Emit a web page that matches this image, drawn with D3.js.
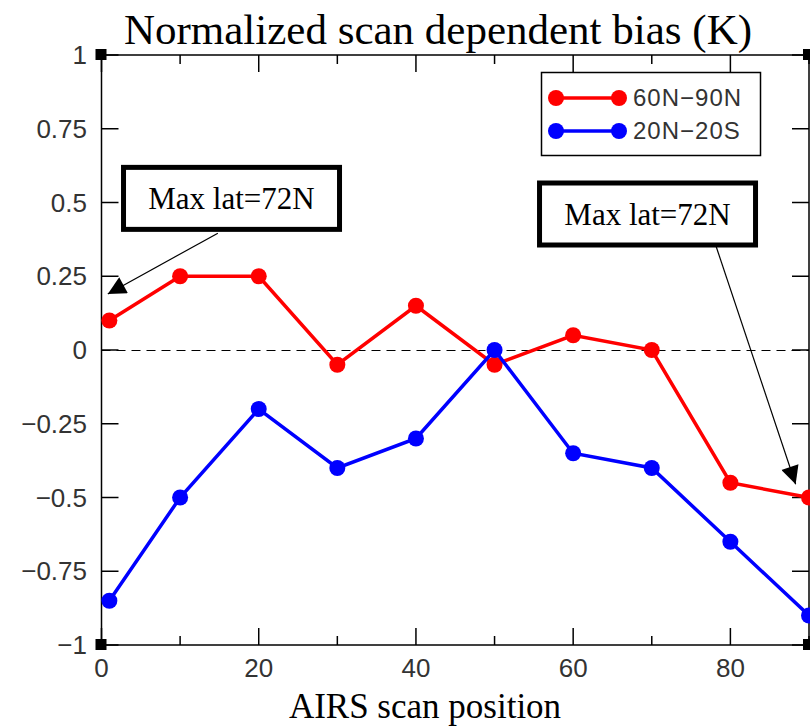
<!DOCTYPE html>
<html>
<head>
<meta charset="utf-8">
<script src="https://cdn.jsdelivr.net/npm/d3@7"></script>
<style>
  body { margin: 0; background: #fff; }
  svg { display: block; }
  .tick-label { font-family: "Liberation Sans", Arial, sans-serif; font-size: 26px; fill: #333; }
  .serif { font-family: "Liberation Serif", "Times New Roman", serif; fill: #000; }
</style>
</head>
<body>
<div id="chart"></div>
<script>
'use strict';

// scan positions and biases
const scanPos = [1, 10, 20, 30, 40, 50, 60, 70, 80, 90];
const northBias = [0.1, 0.25, 0.25, -0.05, 0.15, -0.05, 0.05, 0, -0.45, -0.5];
const tropicBias = [-0.85, -0.5, -0.2, -0.4, -0.3, 0, -0.35, -0.4, -0.65, -0.9];

const seriesNames = ["60N\u221290N", "20N\u221220S"];
const seriesColors = ["#ff0000", "#0000ff"];

const xTicks = [0, 20, 40, 60, 80];
const xMinor = [10, 30, 50, 70, 90];
const yTicks = [1, 0.75, 0.5, 0.25, 0, -0.25, -0.5, -0.75, -1];
const yTickLabels = ["1", "0.75", "0.5", "0.25", "0", "\u22120.25", "\u22120.5", "\u22120.75", "\u22121"];

// annotation boxes (data coords of box centre) and arrow tips
const notes = [
    { text: "Max lat=72N", cx: 16.54, cy: 0.514, tailX: 14.8, tailY: 0.396, tipX: 0.8, tipY: 0.19 },
    { text: "Max lat=72N", cx: 69.46, cy: 0.461, tailX: 78.2, tailY: 0.35, tipX: 88.3, tipY: -0.455 }
];

const width = 810, height = 728;
const plotLeft = 101.5, plotRight = 809, plotTop = 55, plotBottom = 645;

const X = d3.scaleLinear().domain([0, 90]).range([plotLeft, plotRight]);
const Y = d3.scaleLinear().domain([-1, 1]).range([plotBottom, plotTop]);

const svg = d3.select("#chart").append("svg")
    .attr("width", width)
    .attr("height", height);

svg.append("defs").append("marker")
    .attr("id", "head")
    .attr("viewBox", "0 0 10 10")
    .attr("refX", 10).attr("refY", 5)
    .attr("markerWidth", 22).attr("markerHeight", 18)
    .attr("markerUnits", "userSpaceOnUse")
    .attr("orient", "auto")
    .append("path")
    .attr("d", "M0,0 L10,5 L0,10 Z")
    .attr("fill", "#000");

// title + x label
svg.append("text").attr("class", "serif")
    .attr("x", 438).attr("y", 44)
    .attr("text-anchor", "middle")
    .style("font-size", "43px")
    .text("Normalized scan dependent bias (K)");

svg.append("text").attr("class", "serif")
    .attr("x", 425).attr("y", 718)
    .attr("text-anchor", "middle")
    .style("font-size", "35px")
    .text("AIRS scan position");

// frame
svg.append("rect")
    .attr("x", plotLeft).attr("y", plotTop)
    .attr("width", plotRight - plotLeft).attr("height", plotBottom - plotTop)
    .attr("fill", "none").attr("stroke", "#000").attr("stroke-width", 1.5);

// ticks on all four sides
const tickG = svg.append("g").attr("stroke", "#000").attr("stroke-width", 1.5);
xTicks.forEach(v => {
    tickG.append("line").attr("x1", X(v)).attr("x2", X(v)).attr("y1", plotBottom).attr("y2", plotBottom - 17);
    tickG.append("line").attr("x1", X(v)).attr("x2", X(v)).attr("y1", plotTop).attr("y2", plotTop + 17);
});
xMinor.forEach(v => {
    tickG.append("line").attr("x1", X(v)).attr("x2", X(v)).attr("y1", plotBottom).attr("y2", plotBottom - 9);
    tickG.append("line").attr("x1", X(v)).attr("x2", X(v)).attr("y1", plotTop).attr("y2", plotTop + 9);
});
yTicks.forEach(v => {
    tickG.append("line").attr("x1", plotLeft).attr("x2", plotLeft + 17).attr("y1", Y(v)).attr("y2", Y(v));
    tickG.append("line").attr("x1", plotRight).attr("x2", plotRight - 17).attr("y1", Y(v)).attr("y2", Y(v));
});

// corner squares
[[plotLeft, plotTop], [plotRight, plotTop], [plotLeft, plotBottom], [plotRight, plotBottom]].forEach(c => {
    svg.append("rect")
        .attr("x", c[0] - 6).attr("y", c[1] - 6)
        .attr("width", 11).attr("height", 11)
        .attr("fill", "#000");
});

// tick labels
svg.selectAll(".ylab").data(yTicks).enter().append("text")
    .attr("class", "tick-label")
    .attr("x", 87)
    .attr("y", d => Y(d) + 9)
    .attr("text-anchor", "end")
    .text((d, i) => yTickLabels[i]);

svg.selectAll(".xlab").data(xTicks).enter().append("text")
    .attr("class", "tick-label")
    .attr("x", d => X(d))
    .attr("y", 677)
    .attr("text-anchor", "middle")
    .text(d => d);

// zero line
svg.append("line")
    .attr("x1", plotLeft).attr("x2", plotRight)
    .attr("y1", Y(0) + 0.5).attr("y2", Y(0) + 0.5)
    .attr("stroke", "#000").attr("stroke-width", 1.2)
    .attr("stroke-dasharray", "9,6");

// series
const plot = svg.append("g");
const line = d3.line().x(d => X(d[0])).y(d => Y(d[1]));
[northBias, tropicBias].forEach((vals, s) => {
    const pts = scanPos.map((p, i) => [p, vals[i]]);
    plot.append("path")
        .datum(pts)
        .attr("d", line)
        .attr("fill", "none")
        .attr("stroke", seriesColors[s])
        .attr("stroke-width", 3.5);
    plot.selectAll(".pt" + s).data(pts).enter().append("circle")
        .attr("cx", d => X(d[0]))
        .attr("cy", d => Y(d[1]))
        .attr("r", 8)
        .attr("fill", seriesColors[s]);
});

// legend
const legend = svg.append("g");
legend.append("rect")
    .attr("x", 541.5).attr("y", 72.5)
    .attr("width", 219).attr("height", 83)
    .attr("fill", "#fff").attr("stroke", "#000").attr("stroke-width", 1.5);
seriesNames.forEach((name, i) => {
    const ly = 98 + i * 33;
    legend.append("line")
        .attr("x1", 556).attr("x2", 619).attr("y1", ly).attr("y2", ly)
        .attr("stroke", seriesColors[i]).attr("stroke-width", 3.5);
    [556, 619].forEach(cx => {
        legend.append("circle").attr("cx", cx).attr("cy", ly).attr("r", 8).attr("fill", seriesColors[i]);
    });
    legend.append("text")
        .attr("class", "tick-label")
        .attr("x", 633).attr("y", ly + 8)
        .style("font-size", "24px")
        .style("letter-spacing", "1px")
        .text(name);
});

// annotation boxes with arrows
notes.forEach(n => {
    const cx = X(n.cx), cy = Y(n.cy);
    const g = svg.append("g");
    g.append("line")
        .attr("x1", X(n.tailX)).attr("y1", Y(n.tailY))
        .attr("x2", X(n.tipX)).attr("y2", Y(n.tipY))
        .attr("stroke", "#000").attr("stroke-width", 1.2)
        .attr("marker-end", "url(#head)");
    g.append("rect")
        .attr("x", cx - 108).attr("y", cy - 31)
        .attr("width", 216).attr("height", 62)
        .attr("fill", "#fff").attr("stroke", "#000").attr("stroke-width", 5);
    g.append("text").attr("class", "serif")
        .attr("x", cx).attr("y", cy + 11)
        .attr("text-anchor", "middle")
        .style("font-size", "31px")
        .text(n.text);
});
</script>
</body>
</html>
